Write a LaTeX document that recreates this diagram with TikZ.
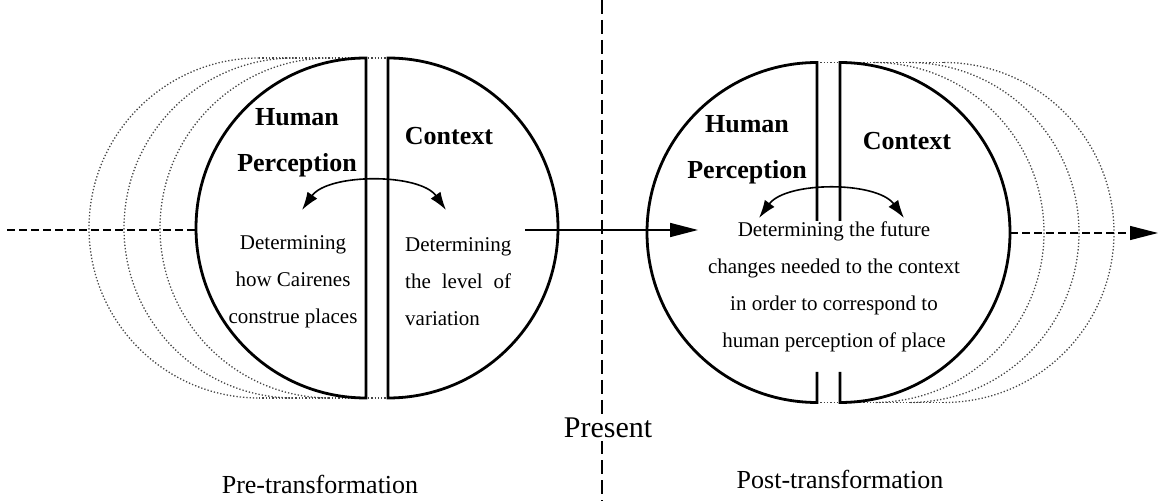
\documentclass[tikz,border=0pt]{standalone}
\usepackage{fontspec}
\setmainfont{Liberation Serif}
\usetikzlibrary{arrows.meta}
\begin{document}
\begin{tikzpicture}[x=1pt,y=1pt,
  half/.style={line width=2.8pt, fill=white, line join=miter},
  ghost/.style={dotted, line width=1.3pt, gray!55!black},
  dashline/.style={dash pattern=on 8pt off 4pt, line width=1.2pt},
  vdash/.style={dash pattern=on 14pt off 6pt, line width=1.1pt},
  bigtip/.style={-{Triangle[length=28pt,width=14pt]}},
  swing/.style={line width=1.6pt, {Latex[length=18pt,width=12pt]}-{Latex[length=18pt,width=12pt]}},
  title/.style={font=\bfseries\fontsize{26}{46}\selectfont, align=center, inner sep=0pt},
  body/.style={font=\fontsize{21}{37}\selectfont, inner sep=0pt},
  lab/.style={font=\fontsize{26}{30}\selectfont, inner sep=0pt}]
\useasboundingbox (0,0) rectangle (1165,501);

% present divider
\coordinate (vtop) at (602,501);
\coordinate (vbot) at (602,0);
\draw[vdash] (vtop) -- (vbot);

% ---------- left (pre-transformation) ----------
\foreach \cx in {330,294,259}{
  \draw[ghost] (\cx,443) arc[start angle=90,end angle=270,radius=170];
}
\draw[ghost] (259,443) -- (388,443);
\draw[ghost] (259,103) -- (388,103);
\coordinate (lstart) at (7,271);
\coordinate (ledge) at (195,271);
\draw[dashline] (lstart) -- (ledge);
\draw[half] (366,443) arc[start angle=90,end angle=270,radius=170] -- cycle;
\draw[half] (388,443) arc[start angle=90,end angle=-90,radius=170] -- cycle;

\node[title] (lhp) at (297,358) {Human\\Perception};
\node[title] (lctx) at (449,365) {Context};
\node[body, align=center] (lbody1) at (293,219) {Determining\\how Cairenes\\construe places};
\node[body, align=left, anchor=west] (lbody2) at (405,219) {Determining\\\hbox to 106pt{the\hfill level\hfill of}\\variation};

\coordinate (la1) at (302,291);
\coordinate (la2) at (446,291);
\draw[swing] (la1) .. controls (328,328) and (420,328) .. (la2);

% ---------- right (post-transformation) ----------
\foreach \cx in {874,909,944}{
  \draw[ghost] (\cx,438.5) arc[start angle=90,end angle=-90,radius=170];
}
\draw[ghost] (817,438.5) -- (944,438.5);
\draw[ghost] (817,98.5) -- (944,98.5);
\coordinate (redge) at (1010,268);
\coordinate (rend) at (1158,268);
\draw[dashline, bigtip] (redge) -- (rend);

\fill[white] (817,438.5) arc[start angle=90,end angle=270,radius=170] -- cycle;
\fill[white] (840,438.5) arc[start angle=90,end angle=-90,radius=170] -- cycle;
\draw[line width=2.8pt, line join=miter] (817,280) -- (817,438.5) arc[start angle=90,end angle=270,radius=170] -- (817,129);
\draw[line width=2.8pt, line join=miter] (840,280) -- (840,438.5) arc[start angle=90,end angle=-90,radius=170] -- (840,129);

\node[title] (rhp) at (747,351.5) {Human\\Perception};
\node[title] (rctx) at (907,360) {Context};
\node[body, align=center] (rbody) at (834,214) {Determining the future\\changes needed to the context\\in order to correspond to\\human perception of place};

\coordinate (ra1) at (759,283);
\coordinate (ra2) at (904,283);
\draw[swing] (ra1) .. controls (786,320) and (877,320) .. (ra2);

% ---------- transition arrow ----------
\coordinate (astart) at (525,271);
\coordinate (aend) at (698,271);
\draw[line width=1.6pt, bigtip] (astart) -- (aend);

% ---------- labels ----------
\node[lab, fill=white, inner sep=3pt, font=\fontsize{30}{34}\selectfont] (present) at (608,73) {Present};
\node[lab] (pre) at (320,17) {Pre-transformation};
\node[lab] (post) at (840,22) {Post-transformation};
\end{tikzpicture}
\end{document}
